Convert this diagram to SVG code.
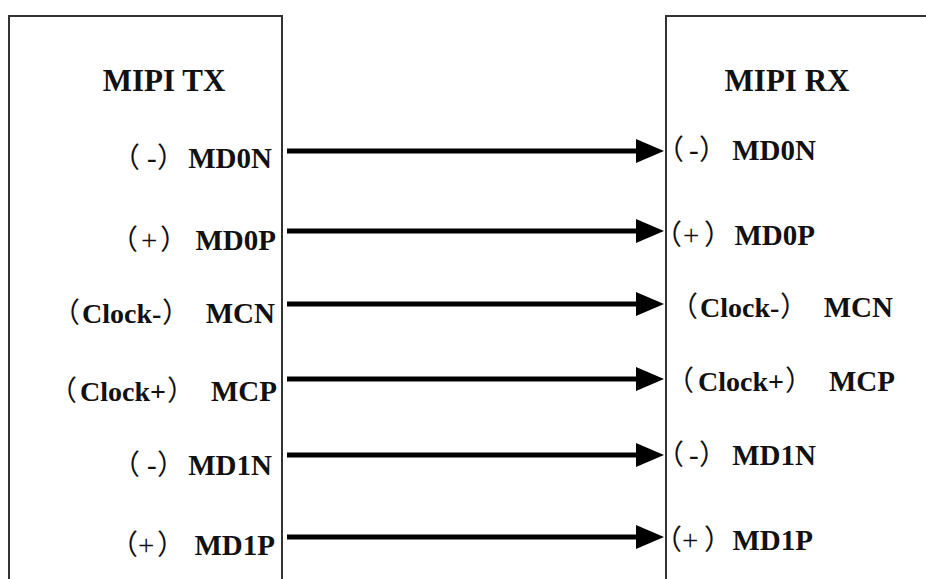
<svg xmlns="http://www.w3.org/2000/svg" width="926" height="579" viewBox="0 0 926 579">
<style>
.box{fill:#fff;stroke:#333;stroke-width:2}
.t{font-family:"Liberation Serif","Noto Sans CJK SC",serif;font-weight:bold;fill:#111}
.title{font-size:31px}
.lbl{font-size:29px}
.ck{font-size:28px}
.p{font-family:"Noto Sans CJK SC","Liberation Serif",sans-serif;font-weight:normal;font-size:28px;fill:#111}
.s{font-family:"Liberation Serif",serif;font-weight:normal;font-size:29px}
.c{stroke:#000;stroke-width:5;fill:none;marker-end:url(#ah)}
</style>
<defs>
<marker id="ah" markerUnits="userSpaceOnUse" markerWidth="30" markerHeight="26" viewBox="0 0 30 26" refX="2" refY="13" orient="auto">
<path d="M0,1 L28,13 L0,25 Z" fill="#000"/>
</marker>
</defs>
<rect width="926" height="579" fill="#fff"/>
<g id="tx">
<rect class="box" x="9" y="16" width="273" height="600"/>
<text class="t title" x="164" y="91" text-anchor="middle">MIPI TX</text>
<text class="t lbl" y="168"><tspan class="p" x="112">（</tspan><tspan class="s" x="147">-</tspan><tspan class="p" x="157">）</tspan><tspan x="272" text-anchor="end">MD0N</tspan></text>
<text class="t lbl" y="250"><tspan class="p" x="110">（</tspan><tspan class="s" x="141">+</tspan><tspan class="p" x="160">）</tspan><tspan x="276" text-anchor="end">MD0P</tspan></text>
<text class="t lbl" y="323"><tspan class="p" x="52">（</tspan><tspan class="ck" x="82">Clock-</tspan><tspan class="p" x="162">）</tspan><tspan x="275" text-anchor="end">MCN</tspan></text>
<text class="t lbl" y="401"><tspan class="p" x="49">（</tspan><tspan class="ck" x="80">Clock+</tspan><tspan class="p" x="167">）</tspan><tspan x="277" text-anchor="end">MCP</tspan></text>
<text class="t lbl" y="475"><tspan class="p" x="112">（</tspan><tspan class="s" x="147">-</tspan><tspan class="p" x="157">）</tspan><tspan x="272" text-anchor="end">MD1N</tspan></text>
<text class="t lbl" y="555"><tspan class="p" x="110">（</tspan><tspan class="s" x="138">+</tspan><tspan class="p" x="157">）</tspan><tspan x="275" text-anchor="end">MD1P</tspan></text>
</g>
<g id="rx">
<rect class="box" x="666" y="16" width="300" height="600"/>
<text class="t title" x="787" y="91" text-anchor="middle">MIPI RX</text>
<text class="t lbl" y="160"><tspan class="p" x="656">（</tspan><tspan class="s" x="689">-</tspan><tspan class="p" x="699">）</tspan><tspan x="816" text-anchor="end">MD0N</tspan></text>
<text class="t lbl" y="245"><tspan class="p" x="654">（</tspan><tspan class="s" x="683">+</tspan><tspan class="p" x="704">）</tspan><tspan x="815" text-anchor="end">MD0P</tspan></text>
<text class="t lbl" y="317"><tspan class="p" x="670">（</tspan><tspan class="ck" x="700">Clock-</tspan><tspan class="p" x="780">）</tspan><tspan x="893" text-anchor="end">MCN</tspan></text>
<text class="t lbl" y="391"><tspan class="p" x="666">（</tspan><tspan class="ck" x="698">Clock+</tspan><tspan class="p" x="785">）</tspan><tspan x="895" text-anchor="end">MCP</tspan></text>
<text class="t lbl" y="465"><tspan class="p" x="656">（</tspan><tspan class="s" x="689">-</tspan><tspan class="p" x="699">）</tspan><tspan x="816" text-anchor="end">MD1N</tspan></text>
<text class="t lbl" y="550"><tspan class="p" x="654">（</tspan><tspan class="s" x="682">+</tspan><tspan class="p" x="704">）</tspan><tspan x="813" text-anchor="end">MD1P</tspan></text>
</g>
<g id="connectors">
<line class="c" x1="287" y1="151" x2="638" y2="151"/>
<line class="c" x1="287" y1="231" x2="638" y2="231"/>
<line class="c" x1="287" y1="304" x2="638" y2="304"/>
<line class="c" x1="287" y1="379" x2="638" y2="379"/>
<line class="c" x1="287" y1="455" x2="638" y2="455"/>
<line class="c" x1="287" y1="537" x2="638" y2="537"/>
</g>
</svg>
